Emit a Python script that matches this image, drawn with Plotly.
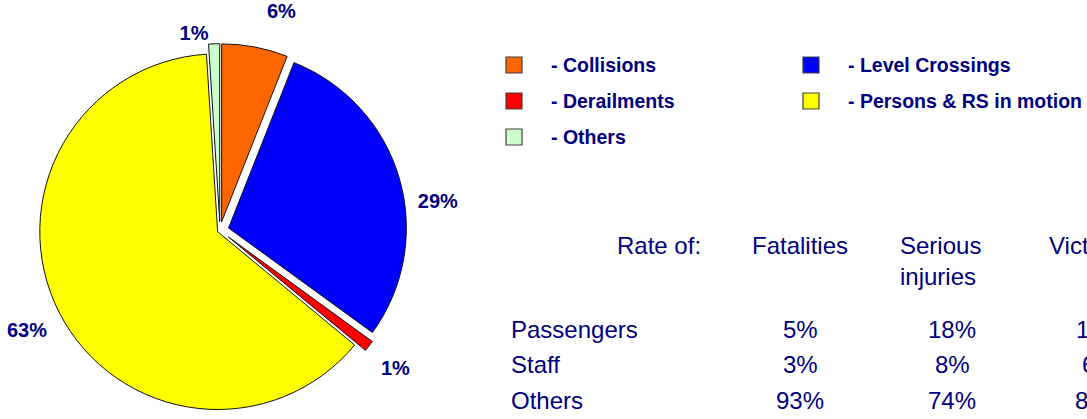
import plotly.graph_objects as go

# ---- data ----
categories = ["- Collisions", "- Level Crossings", "- Derailments", "- Persons & RS in motion", "- Others"]
shares = [6, 29, 1, 63, 1]
slice_colors = ["#FF6600", "#0000FF", "#FF0000", "#FFFF00", "#CCFFCC"]

table_header = "Rate of:"
table_cols = ["Fatalities", "Serious<br>injuries", "Victims"]
table_rows = ["Passengers", "Staff", "Others"]
fatalities = [5, 3, 93]
serious_injuries = [18, 8, 74]
victims = [11, 6, 83]

# ---- style / layout ----
W, H = 1087, 419
NAVY = "#000080"
FONT = "Liberation Sans, Arial, sans-serif"
NB = "\u00a0"

# label templates: extra blank lines only nudge the outside labels outward
label_templates = [
    "%{percent:.0%}<br>" + NB,
    NB + "<br>" + NB + "<br>%{percent:.0%}",
    NB + "<br>%{percent:.0%}",
    NB + "<br>%{percent:.0%}",
    "%{percent:.0%}",
]


def px(x):
    return x / W


def py(y):
    return 1 - y / H


fig = go.Figure()
fig.add_trace(go.Pie(
    labels=categories,
    values=shares,
    sort=False,
    direction="clockwise",
    rotation=0,
    pull=[0.05, 0.05, 0.06, 0.015, 0.05],
    marker=dict(colors=slice_colors, line=dict(color="#111111", width=1)),
    texttemplate=label_templates,
    textposition="outside",
    outsidetextfont=dict(family=FONT, size=20, color=NAVY, weight="bold"),
    domain=dict(x=[px(31.5), px(408.5)], y=[0, 0.9]),
    hoverinfo="label+percent",
    showlegend=False,
))

shapes = []
ann = []

# ---- legend (two columns) ----
LEG_SQ_X = [506, 803]
LEG_TXT_X = [549, 846]
LEG_Y0, LEG_DY, SQ = 65, 36, 16
for i, (cat, col) in enumerate(zip(categories, slice_colors)):
    r, c = divmod(i, 2)
    yc = LEG_Y0 + r * LEG_DY
    shapes.append(dict(type="rect", xref="paper", yref="paper",
                       x0=px(LEG_SQ_X[c]), x1=px(LEG_SQ_X[c] + SQ),
                       y0=py(yc + SQ / 2), y1=py(yc - SQ / 2),
                       fillcolor=col, line=dict(color="#404040", width=1.2)))
    ann.append(dict(x=px(LEG_TXT_X[c]), y=py(yc), text=cat, xanchor="left",
                    font=dict(family=FONT, size=19.5, color=NAVY, weight="bold")))

# ---- table ----
tfont = dict(family=FONT, size=24, color=NAVY)
ann.append(dict(x=px(703), y=py(245), text=table_header, xanchor="right", font=tfont))
header_x = [800, 898, 1087]
for i, h in enumerate(table_cols):
    if i == 1:
        ann.append(dict(x=px(header_x[i]), y=py(261), text=h, xanchor="left", align="left", font=tfont))
    else:
        ann.append(dict(x=px(header_x[i]), y=py(245), text=h, xanchor="center", font=tfont))
row_y = [329, 364, 400]
val_x = [800, 952, 1099]
cols_vals = [fatalities, serious_injuries, victims]
for r, name in enumerate(table_rows):
    ann.append(dict(x=px(509), y=py(row_y[r]), text=name, xanchor="left", font=tfont))
    for c, vals in enumerate(cols_vals):
        ann.append(dict(x=px(val_x[c]), y=py(row_y[r]), text=f"{vals[r]}%",
                        xanchor="center", font=tfont))
for a in ann:
    a.update(xref="paper", yref="paper", yanchor="middle", showarrow=False)

fig.update_layout(
    width=W, height=H,
    margin=dict(l=0, r=0, t=0, b=0, autoexpand=False),
    paper_bgcolor="white",
    plot_bgcolor="white",
    annotations=ann,
    shapes=shapes,
    showlegend=False,
)

fig.write_html("out.html",
               config={"displayModeBar": False},
               post_script="document.body.style.margin='0px';document.body.style.overflow='hidden';")
